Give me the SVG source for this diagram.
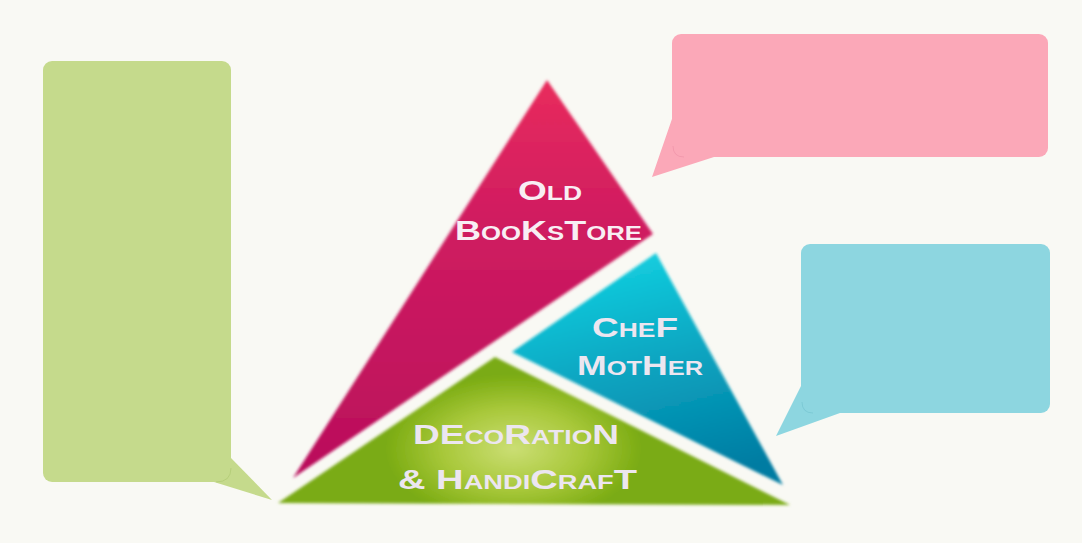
<svg xmlns="http://www.w3.org/2000/svg" width="1082" height="543" viewBox="0 0 1082 543">
<style>
.lbl{font-family:"Liberation Sans",Arial,sans-serif;font-weight:bold;font-size:28px;font-variant:small-caps}
.pinklbl{fill:#f8eef4}
.otherlbl{fill:#ece6f0}
.callout-edge{fill:none;stroke-opacity:0.2;stroke-width:1}
</style>
<defs>
<filter id="soft" x="-5%" y="-5%" width="110%" height="110%"><feGaussianBlur stdDeviation="1.4"/></filter>
<linearGradient id="gPink" x1="0" y1="0" x2="0" y2="1">
<stop offset="0" stop-color="#e82b5c"/>
<stop offset="0.35" stop-color="#d01c60"/>
<stop offset="1" stop-color="#b90e5b"/>
</linearGradient>
<linearGradient id="gBlue" x1="0.3" y1="0" x2="0.6" y2="1">
<stop offset="0" stop-color="#14d2e2"/>
<stop offset="0.5" stop-color="#0aa4c0"/>
<stop offset="1" stop-color="#007ca2"/>
</linearGradient>
<radialGradient id="gGreen" cx="0.46" cy="0.62" r="0.5" gradientTransform="translate(0.23 0) scale(0.5 1)">
<stop offset="0" stop-color="#cbde74"/>
<stop offset="0.55" stop-color="#a8c83a"/>
<stop offset="1" stop-color="#7aab12"/>
</radialGradient>
</defs>
<rect width="1082" height="543" fill="#f9f9f4"/>

<g id="callout-green">
<rect x="43" y="61" width="188" height="421" rx="9" fill="#c5da8c"/>
<polygon points="231,458 272,500 214,482 214,458" fill="#c5da8c"/>
<path class="callout-edge" d="M231,468 Q231,482 216,482" stroke="#7aa030"/>
</g>

<g id="callout-pink">
<rect x="672" y="34" width="376" height="123" rx="9" fill="#fba8b8"/>
<polygon points="673,116 652,177 714,157 690,157 690,140 673,140" fill="#fba8b8"/>
<path class="callout-edge" d="M673,146 Q673,157 684,157" stroke="#d06080"/>
</g>

<g id="callout-blue">
<rect x="801" y="244" width="249" height="169" rx="9" fill="#8dd6e0"/>
<polygon points="802,384 776,436 840,413 818,413 818,398 802,398" fill="#8dd6e0"/>
<path class="callout-edge" d="M802,402 Q802,413 813,413" stroke="#3a9aaa"/>
</g>

<g id="tri-old-bookstore">
<polygon points="547,80 653,234 293,478" fill="url(#gPink)" filter="url(#soft)"/>
<text class="lbl pinklbl" x="518" y="200" textLength="64" lengthAdjust="spacingAndGlyphs">Old</text>
<text class="lbl pinklbl" x="455" y="240" textLength="187" lengthAdjust="spacingAndGlyphs">BooKsTore</text>
</g>

<g id="tri-chef-mother">
<polygon points="656,253 783,485 512,352" fill="url(#gBlue)" filter="url(#soft)"/>
<text class="lbl otherlbl" x="592" y="337" textLength="86" lengthAdjust="spacingAndGlyphs">CheF</text>
<text class="lbl otherlbl" x="577" y="375" textLength="126" lengthAdjust="spacingAndGlyphs">MotHer</text>
</g>

<g id="tri-decoration">
<polygon points="495,357 790,505 278,503" fill="url(#gGreen)" filter="url(#soft)"/>
<text class="lbl otherlbl" x="413" y="444" textLength="206" lengthAdjust="spacingAndGlyphs">DEcoRatioN</text>
<text class="lbl otherlbl" x="398" y="489" textLength="239" lengthAdjust="spacingAndGlyphs">&amp; HandiCrafT</text>
</g>
</svg>
